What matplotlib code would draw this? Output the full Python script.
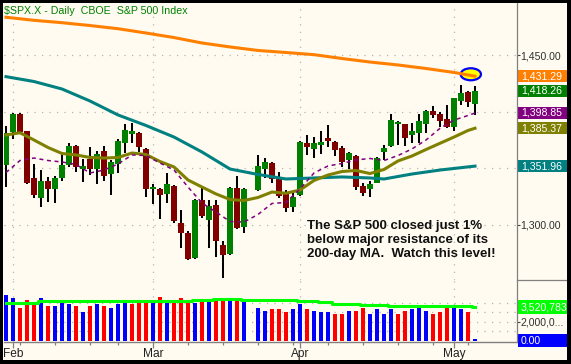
import numpy as np
import pandas as pd
import matplotlib
matplotlib.use("Agg")
import matplotlib.pyplot as plt
from matplotlib.patches import Rectangle, Ellipse
from matplotlib.lines import Line2D
import matplotlib.transforms as mtrans
from matplotlib import font_manager as fm

# ---------------- data ----------------
dates = pd.bdate_range("2008-01-31", "2008-05-06")
dates = dates[dates != pd.Timestamp("2008-02-18")]   # Mar 21 kept as empty slot

N = np.nan
opens = [1352.9, 1382.1, 1397.9, 1382.9, 1341.5, 1323.8, 1338.8, 1331.8, 1341.5, 1352.9,
         1369.7, 1349.1, 1358.2, 1349.4, 1365.3, 1345.0, 1353.8, 1372.6, 1380.3, 1381.2,
         1367.1, 1331.5, 1331.8, 1327.6, 1334.4, 1301.5, 1292.7, 1271.1, 1321.8, 1304.4,
         1317.6, 1282.4, 1274.4, 1332.6, 1298.5, N, 1330.9, 1349.4, 1354.4, 1340.3,
         1328.9, 1316.1, 1326.5, 1372.6, 1367.3, 1370.9, 1376.8, 1373.2, 1367.7, 1357.4,
         1360.9, 1334.4, 1332.0, 1337.3, 1364.7, 1369.7, 1389.1, 1388.9, 1379.4, 1381.4,
         1389.1, 1400.6, 1397.9, 1393.5, 1386.7, 1409.4, 1417.1, 1406.5]
highs = [1387.6, 1398.8, 1398.8, 1382.9, 1353.8, 1348.5, 1342.6, 1343.2, 1362.6, 1372.1,
         1370.6, 1358.2, 1369.1, 1365.3, 1369.7, 1357.4, 1375.6, 1389.1, 1389.7, 1382.1,
         1367.9, 1336.2, 1332.6, 1345.6, 1335.3, 1313.2, 1295.0, 1322.9, 1333.8, 1322.1,
         1322.1, 1285.9, 1333.5, 1343.2, 1332.6, N, 1361.8, 1358.9, 1355.6, 1346.8,
         1330.9, 1328.5, 1374.1, 1379.4, 1377.9, 1382.9, 1388.2, 1374.1, 1369.7, 1364.7,
         1361.8, 1336.8, 1339.1, 1360.0, 1370.6, 1397.9, 1392.0, 1389.1, 1389.7, 1397.7,
         1401.5, 1405.0, 1399.4, 1405.9, 1412.1, 1423.5, 1418.2, 1422.6]
lows = [1333.8, 1375.9, 1380.3, 1336.2, 1323.8, 1316.1, 1320.3, 1319.4, 1339.1, 1350.9,
        1347.0, 1338.2, 1344.1, 1336.2, 1339.1, 1326.5, 1345.6, 1363.3, 1372.6, 1364.7,
        1325.0, 1318.5, 1305.3, 1319.7, 1302.0, 1279.4, 1269.1, 1270.0, 1306.4, 1279.4,
        1271.5, 1253.0, 1273.5, 1296.5, 1293.2, N, 1330.0, 1341.2, 1336.8, 1323.6,
        1311.7, 1311.7, 1325.6, 1361.8, 1359.4, 1362.6, 1369.1, 1360.9, 1350.9, 1349.1,
        1330.9, 1325.6, 1324.4, 1336.8, 1357.4, 1368.8, 1370.6, 1370.0, 1372.1, 1372.1,
        1380.9, 1394.1, 1386.7, 1385.3, 1382.9, 1405.9, 1404.4, 1397.1]
closes = [1381.4, 1397.9, 1382.3, 1337.4, 1326.7, 1338.8, 1331.8, 1341.5, 1353.2, 1369.7,
          1351.4, 1352.1, 1349.4, 1362.6, 1343.5, 1355.9, 1374.1, 1383.8, 1382.9, 1369.1,
          1331.5, 1333.5, 1326.7, 1336.2, 1303.8, 1292.7, 1270.3, 1322.1, 1307.9, 1316.8,
          1286.2, 1273.8, 1332.6, 1297.4, 1331.8, N, 1352.1, 1355.3, 1340.3, 1325.6,
          1315.3, 1325.0, 1373.5, 1369.1, 1372.0, 1373.0, 1373.8, 1366.2, 1355.9, 1363.3,
          1333.3, 1328.5, 1336.2, 1358.9, 1368.2, 1392.6, 1391.1, 1377.0, 1382.9, 1391.8,
          1400.6, 1397.1, 1392.0, 1386.7, 1411.8, 1416.2, 1408.8, 1418.26]

# volume in thousands of shares
volume = [4890000, 4570000, 3510000, 4260000, 3970000, 4570000, 3720000, 3620000, 4040000, 3830000,
          3620000, 2980000, 3620000, 3830000, 3620000, 3510000, 3830000, 4040000, 3830000, 3940000,
          4360000, 4040000, 4680000, 4260000, 4260000, 4470000, 4260000, 4040000, 4360000, 4150000,
          4260000, 4260000, 4260000, 4150000, 4260000, N, 3510000, 3190000, 3300000, 3300000,
          2980000, 3300000, 3830000, 3400000, 3090000, 2980000, 2980000, 2870000, 2870000, 3090000,
          3090000, 3510000, 2870000, 3400000, 2870000, 3400000, 2770000, 3090000, 3400000, 3720000,
          3190000, 2870000, 2980000, 3510000, 3510000, 3300000, 2980000, 210000]
volume_ma = [4020000, 4020000, 4020000, 4020000, 4020000,
             4200000, 4200000, 4200000, 4200000, 4200000, 4200000, 4200000, 4200000, 4200000, 4200000, 4200000,
             4200000, 4200000, 4200000, 4200000, 4200000, 4200000, 4200000, 4200000, 4200000, 4200000, 4200000,
             4340000, 4340000, 4340000,
             4450000, 4450000, 4450000, 4450000,
             4340000, 4340000, 4340000, 4340000, 4340000, 4340000, 4340000, 4340000,
             4230000, 4230000, 4230000,
             4130000, 4130000,
             3910000, 3910000, 3910000, 3910000,
             3810000, 3810000, 3810000, 3810000,
             3700000, 3700000, 3700000, 3700000, 3700000, 3700000, 3700000, 3700000, 3700000, 3700000, 3700000, 3700000,
             3520783]

# moving averages (sampled at bar indices)
ma200_bars = [0, 4, 8, 12, 16, 20, 24, 28, 32, 36, 40, 44, 48, 52, 56, 60, 64, 67]
ma200 = [1483.3, 1480.6, 1478.5, 1476.0, 1473.2, 1469.4, 1465.4, 1460.6, 1457.1, 1454.0,
         1452.2, 1450.3, 1446.9, 1443.8, 1441.2, 1438.1, 1434.6, 1431.29]
ma50_bars = [0, 4, 8, 12, 16, 20, 24, 28, 32, 36, 40, 44, 48, 52, 54, 58, 62, 67]
ma50 = [1430.9, 1426.6, 1420.0, 1409.4, 1397.1, 1387.8, 1377.6, 1364.4, 1349.4, 1344.6,
        1340.6, 1341.5, 1342.4, 1341.5, 1340.6, 1345.0, 1348.5, 1351.96]
ma_bars = [0, 2, 4, 6, 8, 10, 12, 14, 16, 18, 20, 22, 24, 26, 28, 30, 32, 34, 36, 38,
           40, 42, 44, 46, 48, 50, 52, 54, 56, 58, 60, 62, 64, 66, 67]
ma20 = [1379.4, 1381.4, 1375.0, 1368.4, 1363.1, 1361.8, 1359.6, 1359.1, 1359.6, 1363.5,
        1362.2, 1356.0, 1351.2, 1339.7, 1333.5, 1327.4, 1322.5, 1321.6, 1324.3, 1329.1,
        1328.0, 1330.9, 1339.3, 1344.1, 1347.2, 1348.1, 1345.4, 1349.0, 1356.5, 1360.9,
        1366.6, 1372.1, 1377.6, 1383.4, 1385.37]
ma10 = [1346.3, 1356.9, 1359.1, 1356.9, 1355.6, 1353.4, 1345.9, 1348.5, 1353.8, 1361.8,
        1361.3, 1354.7, 1348.5, 1333.5, 1319.4, 1311.5, 1303.1, 1302.6, 1309.3, 1319.0,
        1319.9, 1331.8, 1345.9, 1352.1, 1354.3, 1357.4, 1358.7, 1356.9, 1361.3, 1367.1,
        1375.0, 1385.3, 1392.6, 1396.6, 1398.85]

# ---------------- layout helpers ----------------
W, H = 571, 364
BG = "#FFFBF0"
GRID = "#B4B4B4"
AXC = "#808080"

names = {f.name for f in fm.fontManager.ttflist}
NARROW = "Liberation Sans Narrow" in names
LBL_FONT = "Liberation Sans Narrow" if NARROW else "Liberation Sans"
LBL_SIZE = 9.0 if NARROW else 7.6

fig = plt.figure(figsize=(W / 100, H / 100), dpi=100)
fig.patch.set_facecolor(BG)

def fx(px):
    return px / W

def fy(py):
    return 1 - py / H

x_left, x_right = 3.5, 517.0
xlim = ((x_left - 6) / 7, (x_right - 6) / 7)

# price axis : y=55 px -> 1450, 170 px per 150 points
PPP = 170 / 150.0
def price_at(py):
    return 1450 - (py - 55) / PPP

ax = fig.add_axes([fx(x_left), fy(280), fx(x_right) - fx(x_left), fy(3) - fy(280)])
ax.set_facecolor("none")
ax.set_xlim(*xlim)
ax.set_ylim(price_at(280), price_at(3))
ax.set_xticks([])

VPX = 9.4 / 1e6   # px per thousand shares
vax = fig.add_axes([fx(x_left), fy(341.5), fx(x_right) - fx(x_left), fy(280) - fy(341.5)])
vax.set_facecolor("none")
vax.set_xlim(*xlim)
vax.set_ylim(-(341.5 - 340.5) / VPX, (340.5 - 280) / VPX)

for a in (ax, vax):
    for s in ("top", "left", "bottom", "right"):
        a.spines[s].set_visible(False)
vax.spines["bottom"].set_visible(True)
vax.spines["bottom"].set_color(AXC)
vax.spines["bottom"].set_linewidth(1.0)

idx = np.arange(len(dates))

# month / week ticks
month_ticks, week_ticks = [], []
for i, d in enumerate(dates):
    if i == 0:
        continue
    if d.month != dates[i - 1].month:
        month_ticks.append(i)
    if d.weekday() < dates[i - 1].weekday():
        week_ticks.append(i)
month_labels = [dates[i].strftime("%b") for i in month_ticks]

# grid
for lvl in (1300, 1350, 1400, 1450):
    ax.axhline(lvl, color=GRID, lw=0.9, ls=(0, (1, 5)), zorder=0)
for lvl in (1e6, 2e6, 3e6, 4e6):
    vax.axhline(lvl, color=GRID, lw=0.9, ls=(0, (1, 5)), zorder=0)
for m in month_ticks:
    ax.axvline(m, color=GRID, lw=0.9, ls=(0, (1, 5)), zorder=0)
    vax.axvline(m, color=GRID, lw=0.9, ls=(0, (1, 5)), zorder=0)

# candles
for i in idx:
    o, h, l, c = opens[i], highs[i], lows[i], closes[i]
    if np.isnan(o):
        continue
    ax.plot([i, i], [l, h], color="black", lw=1.45, solid_capstyle="butt", zorder=2)
    col = "#008000" if c >= o else "#800000"
    bot = min(o, c)
    ht = max(abs(c - o), 1.0)
    ax.add_patch(Rectangle((i - 0.42, bot), 0.84, ht, facecolor=col, edgecolor="none", zorder=3))

# highlight ellipse at end of 200-day MA
ax.add_patch(Ellipse((66.4, 1433.0), 2.9, 10.6, facecolor="#FFFF00", edgecolor="#0000FF",
                     lw=1.6, zorder=4))

# moving averages
ax.plot(ma200_bars, ma200, color="#FF8000", lw=2.2, zorder=5, solid_joinstyle="round")
ax.plot(ma50_bars, ma50, color="#008080", lw=2.2, zorder=5, solid_joinstyle="round")
ax.plot(ma_bars, ma20, color="#808000", lw=2.2, zorder=5, solid_joinstyle="round")
ax.plot(ma_bars, ma10, color="#800080", lw=1.1, ls=(0, (2.6, 2.4)), zorder=5)

# volume
vcolors = []
prev = None
for i in idx:
    c = closes[i]
    if np.isnan(c):
        vcolors.append("none")
        continue
    vcolors.append("#0000FF" if (prev is None or c >= prev) else "#FF0000")
    prev = c
vals = np.array(volume, dtype=float)
vax.bar(idx, np.nan_to_num(vals), width=0.43, color=vcolors, zorder=2)
vax.plot(idx, volume_ma, color="#00FF00", lw=2.2, drawstyle="steps-mid", zorder=3)

# x ticks
vax.set_xticks(month_ticks)
vax.set_xticklabels(month_labels, fontsize=8.6, color="#202020", family=LBL_FONT)
vax.set_xticks(week_ticks, minor=True)
vax.tick_params(axis="x", which="major", length=4.3, width=0.9, color=AXC, pad=0.5)
vax.tick_params(axis="x", which="minor", length=2.2, width=0.9, color=AXC)

# right price ticks
ax.yaxis.tick_right()
ax.set_yticks([1300, 1450])
ax.set_yticklabels(["1,300.00", "1,450.00"], fontsize=LBL_SIZE, color="#303030", family=LBL_FONT)
ax.tick_params(axis="y", length=2.3, width=0.8, color="#404040", pad=0.3)
vax.yaxis.tick_right()
vax.set_yticks([2e6])
vax.set_yticklabels(["2,000,0..."], fontsize=LBL_SIZE, color="#303030", family=LBL_FONT)
vax.tick_params(axis="y", length=2.3, width=0.8, color="#404040", pad=0.3)

# right separator lines
fig.add_artist(Line2D([fx(517), fx(517)], [fy(3), fy(341.5)], color=AXC, lw=0.9))
fig.add_artist(Line2D([fx(517), fx(567)], [fy(280), fy(280)], color=AXC, lw=0.9))

# value boxes
def value_box(a, value, color, text, hpx=12.4, right=567):
    tr = mtrans.blended_transform_factory(fig.transFigure, a.transData)
    per_px = (a.get_ylim()[1] - a.get_ylim()[0]) / (a.get_position().height * H)
    hh = hpx * per_px
    a.add_patch(Rectangle((fx(517.5), value - hh / 2), fx(right) - fx(517.5), hh, transform=tr,
                          facecolor=color, edgecolor="none", clip_on=False, zorder=10))
    a.text(fx(521), value, text, transform=tr, ha="left", va="center", color="white",
           fontsize=LBL_SIZE, family=LBL_FONT, clip_on=False, zorder=11)

value_box(ax, 1431.29, "#FF8000", "1,431.29")
value_box(ax, 1418.26, "#008000", "1,418.26")
value_box(ax, 1398.85, "#800080", "1,398.85")
value_box(ax, 1385.37, "#808000", "1,385.37")
value_box(ax, 1351.96, "#008080", "1,351.96")
value_box(vax, 3520783, "#00FF00", "3,520,783", hpx=14, right=571)
value_box(vax, 0.0, "#0000FF", "0.00", hpx=13.4, right=567)

# title
fig.text(fx(4.5), fy(11.5), "$SPX.X - Daily  CBOE  S&P 500 Index", color="#008000",
         fontsize=7.7, family="Liberation Sans", ha="left", va="center")

# annotation
fig.text(fx(307), fy(220.5),
         "The S&P 500 closed just 1%\nbelow major resistance of its\n200-day MA.  Watch this level!",
         color="#101010", fontsize=9.5, fontweight="bold", family="Liberation Sans",
         ha="left", va="top", linespacing=1.2)

# black frame
for (x0, y0, w, h) in [(0, 0, W, 3.3), (0, 0, 3.3, H), (566.7, 0, 10, H), (0, 359.5, W, 10)]:
    fig.add_artist(Rectangle((fx(x0), fy(y0 + h)), w / W, h / H, transform=fig.transFigure,
                             facecolor="black", edgecolor="none", zorder=100))

fig.savefig("out.png", dpi=100, facecolor=BG)
